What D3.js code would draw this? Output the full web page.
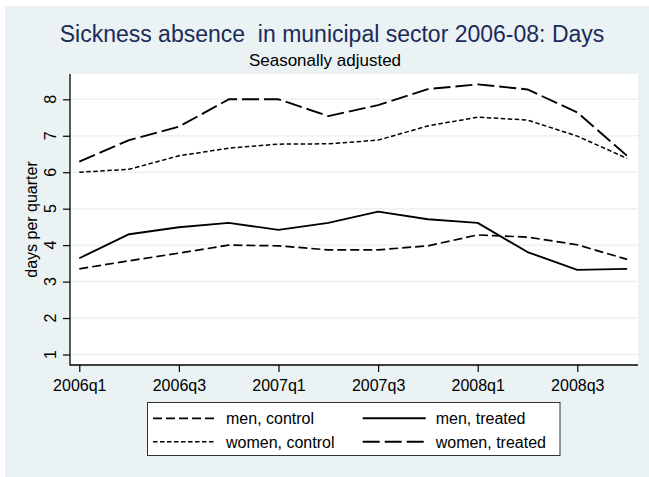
<!DOCTYPE html>
<html>
<head>
<meta charset="utf-8">
<script src="https://cdn.jsdelivr.net/npm/d3@7"></script>
<style>
  html, body { margin: 0; padding: 0; background: #ffffff; }
  svg { display: block; font-family: "Liberation Sans", Arial, Helvetica, sans-serif; }
</style>
</head>
<body>
<svg id="chart" width="649" height="477"></svg>
<script>
// Quarterly sickness absence (days per quarter), seasonally adjusted
const quarters = ["2006q1","2006q2","2006q3","2006q4","2007q1","2007q2","2007q3","2007q4","2008q1","2008q2","2008q3","2008q4"];
const tickQuarters = ["2006q1","2006q3","2007q1","2007q3","2008q1","2008q3"];
const yTicks = [1, 2, 3, 4, 5, 6, 7, 8];

const menControl     = [3.35, 3.57, 3.78, 4.00, 3.98, 3.87, 3.87, 3.98, 4.28, 4.22, 4.01, 3.61];
const menTreated     = [3.64, 4.30, 4.49, 4.61, 4.42, 4.61, 4.92, 4.71, 4.61, 3.81, 3.32, 3.35];
const womenControl   = [6.00, 6.08, 6.45, 6.66, 6.77, 6.78, 6.88, 7.27, 7.51, 7.43, 6.99, 6.38];
const womenTreated   = [6.29, 6.88, 7.25, 8.00, 8.00, 7.54, 7.84, 8.28, 8.41, 8.27, 7.64, 6.45];

const seriesNames = ["men, control", "men, treated", "women, control", "women, treated"];

const series = [
  { name: seriesNames[0], values: menControl,   dash: "9,4",     width: 1.7 },
  { name: seriesNames[1], values: menTreated,   dash: null,      width: 1.9 },
  { name: seriesNames[2], values: womenControl, dash: "4.5,2.5", width: 1.5 },
  { name: seriesNames[3], values: womenTreated, dash: "17,5",    width: 1.9 }
];

const svg = d3.select("#chart");
const W = 649, H = 477;
const plot = { left: 70, right: 638, top: 74, bottom: 365 };

// graph region background
svg.append("rect").attr("x", 5).attr("y", 6).attr("width", W - 5).attr("height", H - 6)
  .attr("fill", "#eaf2f3");

// plot region
svg.append("rect").attr("x", plot.left).attr("y", plot.top)
  .attr("width", plot.right - plot.left).attr("height", plot.bottom - plot.top)
  .attr("fill", "#ffffff");

const x = d3.scalePoint().domain(quarters).range([79.3, 627.1]);
const y = d3.scaleLinear().domain([1, 8]).range([354.5, 99.3]);

// gridlines
svg.append("g").selectAll("line").data(yTicks).join("line")
  .attr("x1", plot.left).attr("x2", plot.right)
  .attr("y1", d => y(d)).attr("y2", d => y(d))
  .attr("stroke", "#eaf2f3").attr("stroke-width", 1.5);

// y axis: ticks from the axis generator, labels rotated
const yAxis = svg.append("g").attr("transform", `translate(${plot.left},0)`)
  .call(d3.axisLeft(y).tickValues(yTicks).tickSize(7).tickSizeOuter(0).tickFormat(""));
yAxis.select(".domain").remove();
yAxis.selectAll(".tick line").attr("stroke", "#000").attr("stroke-width", 1.2);
svg.append("g").selectAll("text").data(yTicks).join("text")
  .attr("transform", d => `translate(56,${y(d)}) rotate(-90)`)
  .attr("text-anchor", "middle").attr("font-size", 16).attr("fill", "#000")
  .text(d => d3.format("d")(d));
svg.append("line").attr("x1", plot.left).attr("x2", plot.left)
  .attr("y1", plot.top).attr("y2", plot.bottom + 0.5)
  .attr("stroke", "#000").attr("stroke-width", 1.3);

// x axis
const xAxis = svg.append("g").attr("transform", `translate(0,${plot.bottom})`)
  .call(d3.axisBottom(x).tickValues(tickQuarters).tickSize(7).tickSizeOuter(0));
xAxis.select(".domain").remove();
xAxis.selectAll(".tick line").attr("stroke", "#000").attr("stroke-width", 1.2);
xAxis.selectAll(".tick text")
  .attr("font-size", 16).attr("fill", "#000").attr("dy", null).attr("y", 26);
svg.append("line").attr("x1", plot.left).attr("x2", plot.right)
  .attr("y1", plot.bottom).attr("y2", plot.bottom)
  .attr("stroke", "#000").attr("stroke-width", 1.3);

// y axis title
svg.append("text")
  .attr("transform", `translate(37,${(plot.top + plot.bottom) / 2}) rotate(-90)`)
  .attr("text-anchor", "middle").attr("font-size", 16).attr("fill", "#000")
  .text("days per quarter");

// lines
const line = d3.line().x((d, i) => x(quarters[i])).y(d => y(d));
svg.append("g").selectAll("path").data(series).join("path")
  .attr("d", d => line(d.values))
  .attr("fill", "none").attr("stroke", "#000")
  .attr("stroke-width", d => d.width)
  .attr("stroke-dasharray", d => d.dash)
  .attr("stroke-linejoin", "round");

// titles
svg.append("text").attr("x", 332).attr("y", 42).attr("text-anchor", "middle")
  .attr("font-size", 23).attr("fill", "#1c2a5a")
  .text("Sickness absence\u00a0 in municipal sector 2006-08: Days");
svg.append("text").attr("x", 325).attr("y", 66).attr("text-anchor", "middle")
  .attr("font-size", 17).attr("fill", "#000")
  .text("Seasonally adjusted");

// legend
const leg = svg.append("g");
leg.append("rect").attr("x", 147.5).attr("y", 402.5).attr("width", 412.5).attr("height", 53)
  .attr("fill", "#ffffff").attr("stroke", "#333").attr("stroke-width", 1);
const legPos = [
  { kx: 153, ty: 418.3 }, { kx: 362.7, ty: 418.3 },
  { kx: 153, ty: 441.7 }, { kx: 362.7, ty: 441.7 }
];
series.forEach((s, i) => {
  const p = legPos[i];
  leg.append("line").attr("x1", p.kx).attr("x2", p.kx + 63)
    .attr("y1", p.ty).attr("y2", p.ty)
    .attr("stroke", "#000").attr("stroke-width", s.width)
    .attr("stroke-dasharray", s.dash);
  leg.append("text").attr("x", p.kx + 73).attr("y", p.ty + 6)
    .attr("font-size", 16).attr("fill", "#000").text(s.name);
});
</script>
</body>
</html>
